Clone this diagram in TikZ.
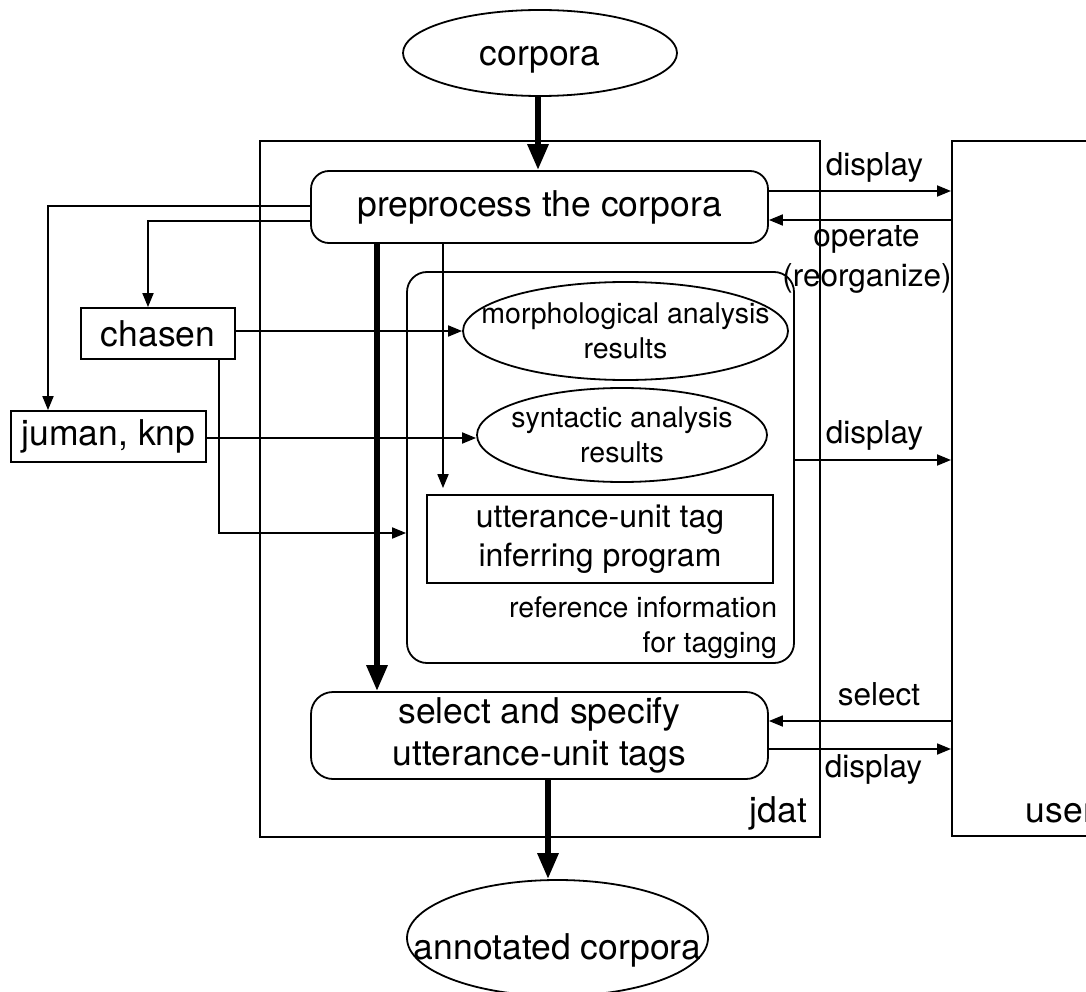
\documentclass[tikz,border=0pt]{standalone}
\usepackage{fontspec}
\setmainfont{TeX Gyre Heros}
\usetikzlibrary{arrows.meta,shapes.geometric}
\begin{document}
\begin{tikzpicture}[x=1pt,y=-1pt,line width=1.8pt,
  fbig/.style={font=\fontsize{35.5pt}{42pt}\selectfont},
  fmid/.style={font=\fontsize{32pt}{39pt}\selectfont},
  flab/.style={font=\fontsize{31.5pt}{40pt}\selectfont},
  fsmall/.style={font=\fontsize{28.5pt}{35pt}\selectfont},
  box/.style={draw,rectangle,inner sep=0pt},
  rbox/.style={draw,rectangle,rounded corners=18pt,inner sep=0pt},
  oval/.style={draw,ellipse,inner sep=0pt},
  arr/.style={-{Triangle[length=14pt,width=11pt]}},
  tarrow/.style={line width=6pt,-{Triangle[length=26pt,width=20pt]}},
  tag/.style={flab,inner sep=0pt}]
\useasboundingbox (0,0) rectangle (1086,992);
\clip (0,0) rectangle (1086,992);

% outer frames
\node[box,minimum width=560pt,minimum height=696pt,anchor=north west] (jdat) at (259,140) {};
\node[box,minimum width=200pt,minimum height=695pt,anchor=north west] (user) at (951,140) {};
\node[fbig,anchor=base east,inner sep=0pt] (jdatlbl) at (808,822) {jdat};
\node[fbig,anchor=base west,inner sep=0pt] (userlbl) at (1025,822) {user};

% input and output corpora
\node[oval,minimum width=274pt,minimum height=86pt,label={[fbig,yshift=-7pt]center:corpora}] (corp) at (540,53) {};
\node[oval,minimum width=301pt,minimum height=116pt,label={[fbig,yshift=-12pt]center:annotated corpora}] (ann) at (557.5,938) {};

% processing steps
\node[rbox,fbig,minimum width=457pt,minimum height=72pt] (pre) at (539.5,207) {preprocess the corpora};
\node[rbox,fbig,align=center,rounded corners=22pt,minimum width=457pt,minimum height=87pt] (sel) at (539.5,735.5) {select and specify\\utterance-unit tags};

% external analysers
\node[box,fbig,minimum width=154pt,minimum height=51pt] (chasen) at (158,333.5) {chasen};
\node[box,fbig,minimum width=195pt,minimum height=51pt] (juman) at (108.5,436.5) {juman, knp};

% reference information group
\node[draw,rounded corners=20pt,inner sep=0pt,minimum width=387pt,minimum height=391pt] (ref) at (600.5,467.5) {};
\node[oval,minimum width=325pt,minimum height=98pt,label={[fsmall,align=center]center:morphological analysis\\results}] (morph) at (625.5,331) {};
\node[oval,minimum width=290pt,minimum height=94pt,label={[fsmall,align=center]center:syntactic analysis\\results}] (syn) at (622,435) {};
\node[box,fmid,align=center,minimum width=346pt,minimum height=88pt] (utt) at (600,539) {utterance-unit tag\\inferring program};
\node[fsmall,align=right,anchor=north east,inner sep=0pt] (reftxt) at (778,596) {reference information\\for tagging};

% main flow
\draw[tarrow] (corp.south -| 538,0) -- (pre.north -| 538,0);
\draw[tarrow] (pre.south -| 377,0) -- (sel.north -| 377,0);
\draw[tarrow] (sel.south -| 548,0) -- (ann.north -| 548,0);

% preprocessing branches
\draw[arr] (pre.west |- 0,206) -| (juman.north -| 48,0);
\draw[arr] (pre.west |- 0,221) -| (chasen.north -| 148,0);
\draw[arr] (chasen.east |- morph.west) -- (morph.west);
\draw[arr] (juman.east |- 0,438) -- (syn.west |- 0,438);
\draw[arr] (chasen.south -| 219,0) |- (ref.west |- 0,533);
\draw[arr,shorten >=6pt] (pre.south -| 443,0) -- (utt.north -| 443,0);

% interaction with the user
\draw[arr] (pre.east |- 0,191) -- (user.west |- 0,191);
\draw[arr] (user.west |- 0,220) -- (pre.east |- 0,220);
\draw[arr] (ref.east |- 0,460) -- (user.west |- 0,460);
\draw[arr] (user.west |- 0,721) -- (sel.east |- 0,721);
\draw[arr] (sel.east |- 0,749) -- (user.west |- 0,749);

\node[tag,anchor=base west] (disp1) at (825,176) {display};
\node[tag,anchor=base] (oper1) at (866.5,247) {operate};
\node[tag,anchor=base] (oper2) at (867,287) {(reorganize)};
\node[tag,anchor=base west] (disp2) at (825,443) {display};
\node[tag,anchor=base west] (selt) at (837,705) {select};
\node[tag,anchor=base west] (disp3) at (824,777) {display};
\end{tikzpicture}
\end{document}
